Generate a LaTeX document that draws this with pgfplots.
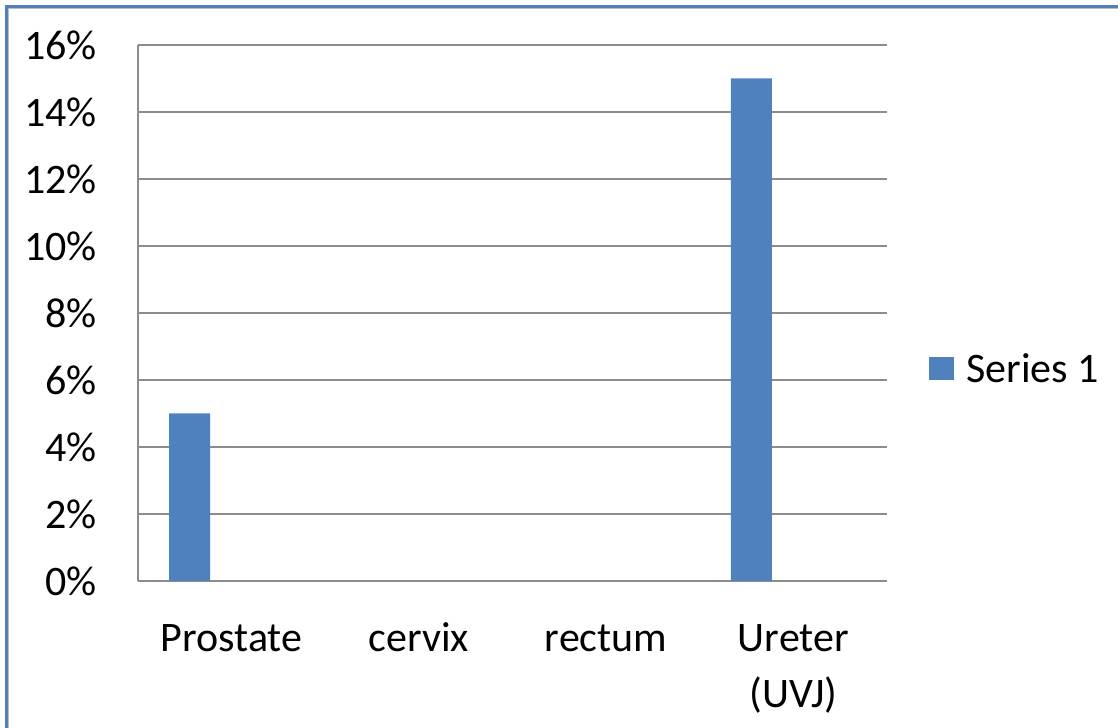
\documentclass[border=0pt]{standalone}
\usepackage{pgfplots}
\pgfplotsset{compat=1.18}
\usepackage{fontspec}
\setmainfont{Carlito}
\definecolor{barblue}{HTML}{4F81BD}
\definecolor{gridgray}{HTML}{8C8C8C}
\definecolor{frameblue}{HTML}{4F81BD}
\newcommand{\st}{\rule{0pt}{30bp}}
\begin{document}
\begin{tikzpicture}[font=\fontsize{42bp}{55bp}\selectfont]
\useasboundingbox (0,0) rectangle (1118bp,728bp);
\draw[frameblue, line width=2.5bp] (6.5bp,721.5bp) -- (1118bp,721.5bp);
\draw[frameblue, line width=2.5bp] (6.5bp,722.75bp) -- (6.5bp,0bp);
\draw[gridgray!60, line width=0.8bp] (8.5bp,0bp) -- (8.5bp,719.5bp) -- (1118bp,719.5bp);
\begin{axis}[at={(138bp,147bp)}, anchor=south west, scale only axis,
  width=749bp, height=536bp,
  xmin=-0.5, xmax=3.5, ymin=0, ymax=16,
  axis x line=bottom, axis y line=left,
  axis line style={-, gridgray, line width=1.5bp},
  ymajorgrids, grid style={gridgray, line width=1.5bp},
  major tick length=0pt,
  xtick={0,1,2,3},
  xticklabels={\st Prostate, \st cervix, \st rectum, {\st Ureter\\(UVJ)}},
  ytick={0,2,4,6,8,10,12,14,16},
  yticklabels={0\%,2\%,4\%,6\%,8\%,10\%,12\%,14\%,16\%},
  tick label style={font=\fontsize{42bp}{56bp}\selectfont},
  xticklabel style={anchor=north, yshift=-40bp, align=center, inner sep=0pt},
  yticklabel style={anchor=east, inner sep=0pt, xshift=-41bp},
  ybar, bar width=41bp, bar shift=-42bp,
  legend style={at={(1.0561,0.3965)}, anchor=west, draw=none, fill=none,
    inner sep=0pt, nodes={inner sep=0pt}, font=\fontsize{42bp}{55bp}\selectfont},
  ]
\addplot[fill=barblue, draw=none,
  legend image code/.code={\fill[barblue] (0bp,-11.5bp) rectangle (25bp,11.5bp); \path (37bp,0bp);}]
  coordinates {(0,5) (1,0) (2,0) (3,15)};
\addlegendentry{Series 1}
\end{axis}
\end{tikzpicture}
\end{document}
